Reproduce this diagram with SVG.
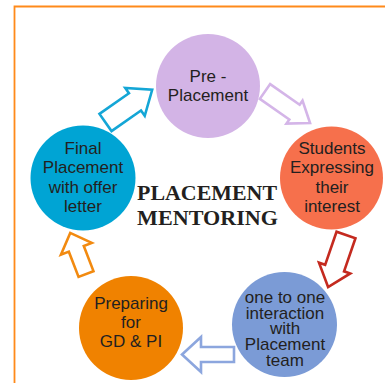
<svg xmlns="http://www.w3.org/2000/svg" width="385" height="383" viewBox="0 0 385 383">
<style>
.lbl{font-family:"Liberation Sans",Arial,sans-serif;font-size:17px;fill:#231F20;text-anchor:middle}
.ttl{font-family:"Liberation Serif","Times New Roman",serif;font-size:20.5px;font-weight:bold;fill:#231F20;text-anchor:middle}
.arr{fill:#fff;stroke-width:2.6;stroke-linejoin:miter}
</style>
<rect width="385" height="383" fill="#fff"/>
<path d="M14.5,383 V6.5 H385" fill="none" stroke="#FF8A1A" stroke-width="1.8"/>
<g id="connectors">
  <path class="arr" stroke="#14A6D6" transform="translate(105.5,122.5) rotate(-35)" d="M0,-10.5 H36 V-17 L57,0 L36,17 V10.5 H0 Z"/>
  <path class="arr" stroke="#D4B5E8" transform="translate(265,91.5) rotate(35)" d="M0,-9 H36 V-14 L55,0 L36,14 V9 H0 Z"/>
  <path class="arr" stroke="#C42A1F" transform="translate(346,235) rotate(109)" d="M0,-10 H35 V-16.5 L55,0 L35,16.5 V10 H0 Z"/>
  <path class="arr" stroke="#8CA6DE" transform="translate(234,354.5) rotate(180)" d="M0,-7.5 H33 V-17.5 L52,0 L33,17.5 V7.5 H0 Z"/>
  <path class="arr" stroke="#F28A10" transform="translate(86,274) rotate(-111)" d="M0,-8 H27 V-16.5 L44,0 L27,16.5 V8 H0 Z"/>
</g>
<g id="node-pre">
  <circle cx="208" cy="86" r="52" fill="#D3B4E6"/>
  <text class="lbl" x="208" y="82">Pre -</text>
  <text class="lbl" x="208" y="101">Placement</text>
</g>
<g id="node-students">
  <circle cx="331.5" cy="178" r="51.5" fill="#F6704C"/>
  <text class="lbl" x="332" y="154">Students</text>
  <text class="lbl" x="332" y="173.3">Expressing</text>
  <text class="lbl" x="332" y="192.6">their</text>
  <text class="lbl" x="332" y="211.9">interest</text>
</g>
<g id="node-one">
  <circle cx="284.5" cy="324.5" r="52.5" fill="#7B9BD6"/>
  <text class="lbl" x="285" y="302.7">one to one</text>
  <text class="lbl" x="285" y="318.5">interaction</text>
  <text class="lbl" x="285" y="334.3">with</text>
  <text class="lbl" x="285" y="350.1">Placement</text>
  <text class="lbl" x="285" y="365.9">team</text>
</g>
<g id="node-preparing">
  <circle cx="131" cy="328" r="52" fill="#F08200"/>
  <text class="lbl" x="131" y="308.5">Preparing</text>
  <text class="lbl" x="131" y="327.5">for</text>
  <text class="lbl" x="131" y="346.5">GD &amp; PI</text>
</g>
<g id="node-final">
  <circle cx="83" cy="178" r="52.5" fill="#00A4D4"/>
  <text class="lbl" x="83" y="154">Final</text>
  <text class="lbl" x="83" y="173.3">Placement</text>
  <text class="lbl" x="83" y="192.6">with offer</text>
  <text class="lbl" x="83" y="211.9">letter</text>
</g>
<g id="title">
  <text class="ttl" x="207" y="200" textLength="140" lengthAdjust="spacingAndGlyphs">PLACEMENT</text>
  <text class="ttl" x="207.5" y="225" textLength="141" lengthAdjust="spacingAndGlyphs">MENTORING</text>
</g>
</svg>
